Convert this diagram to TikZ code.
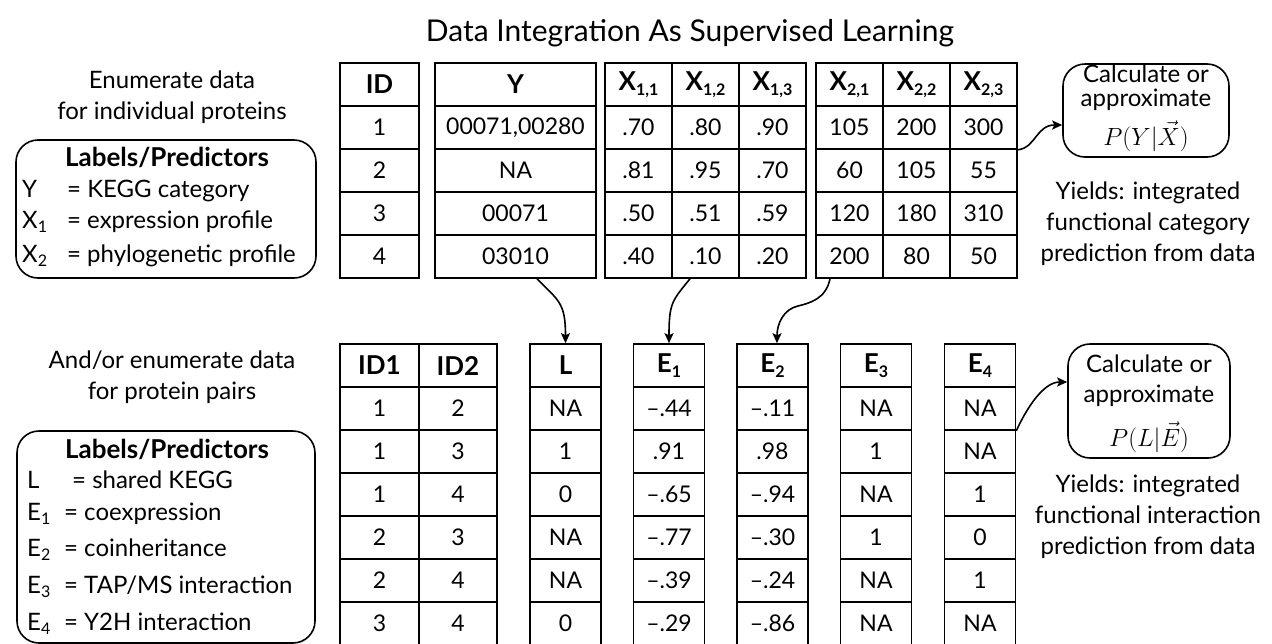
\documentclass[tikz,border=0pt]{standalone}
\usepackage{fontspec}
\setmainfont{Lato}
\usetikzlibrary{arrows.meta,calc}
\newcommand{\sbs}[1]{\raisebox{-0.4ex}{\fontsize{16}{16}\selectfont #1}}
\newcommand{\mkcol}[6]{% name, x, ytop, width, header, entries
  \node[hcell, minimum width=#4] (#1-0) at (#2,#3+21.5) {#5};
  \foreach \v [count=\i] in {#6} \node[cell, minimum width=#4] (#1-\i) at (#2,#3+21.5+43*\i) {\v};
}
\begin{document}
\begin{tikzpicture}[x=1pt,y=-1pt,
  cell/.style={draw, line width=1.6pt, minimum height=43pt, inner sep=0pt, font=\fontsize{23}{25}\selectfont},
  hcell/.style={cell, font=\fontsize{26}{28}\selectfont\bfseries},
  rbox/.style={draw, line width=1.6pt, rounded corners=22pt, inner sep=0pt},
  txt/.style={font=\fontsize{24}{31}\selectfont, align=center, inner sep=0pt},
  ltxt/.style={font=\fontsize{24}{26}\selectfont, anchor=base west, inner sep=0pt},
  lhead/.style={font=\fontsize{26}{28}\selectfont\bfseries, anchor=base, inner sep=0pt},
  mtxt/.style={font=\fontsize{28}{30}\selectfont, inner sep=0pt, anchor=base},
  conn/.style={line width=1.6pt, -{Stealth[length=10pt,width=9pt,inset=2pt]}},
]
\useasboundingbox (0,0) rectangle (1272,643);
\clip (0,0) rectangle (1272,643);

% title
\node[font=\fontsize{30}{32}\selectfont, anchor=base, inner sep=0pt] (title) at (690,41) {Data Integration As Supervised Learning};

% ---------- top section ----------
\node[txt] (enum1) at (172,97) {Enumerate data\\for individual proteins};
\node[rbox, minimum width=300pt, minimum height=138pt] (lb1) at (166,209) {};
\node[lhead] (lb1h) at (167,166) {Labels/Predictors};
\node[ltxt] (lb1a) at (22,197) {\makebox[45pt][l]{Y}= KEGG category};
\node[ltxt] (lb1b) at (22,228) {\makebox[45pt][l]{X\sbs{1}}= expression profile};
\node[ltxt] (lb1c) at (22,262) {\makebox[45pt][l]{X\sbs{2}}= phylogenetic profile};

\mkcol{id}{379.5}{63}{79pt}{ID}{1,2,3,4}
\mkcol{y}{515.5}{63}{161pt}{Y}{{00071,00280},NA,00071,03010}
\mkcol{xa}{638.5}{63}{67pt}{X\sbs{1,1}}{.70,.81,.50,.40}
\mkcol{xb}{705.5}{63}{67pt}{X\sbs{1,2}}{.80,.95,.51,.10}
\mkcol{xc}{772.5}{63}{67pt}{X\sbs{1,3}}{.90,.70,.59,.20}
\mkcol{xd}{849.5}{63}{67pt}{X\sbs{2,1}}{105,60,120,200}
\mkcol{xe}{916.5}{63}{67pt}{X\sbs{2,2}}{200,105,180,80}
\mkcol{xf}{983.5}{63}{67pt}{X\sbs{2,3}}{300,55,310,50}

\node[rbox, minimum width=166pt, minimum height=93pt] (calc1) at (1146,110.5) {};
\node[txt, anchor=base] (calc1a) at (1146,82) {Calculate or};
\node[txt, anchor=base] (calc1b) at (1146,106) {approximate};
\node[mtxt] (calc1c) at (1146,145) {$P(Y|\vec{X})$};
\node[txt] (yield1) at (1148,224) {Yields: integrated\\functional category\\prediction from data};

% ---------- bottom section ----------
\node[txt] (enum2) at (172,377) {And/or enumerate data\\for protein pairs};
\node[rbox, minimum width=298pt, minimum height=212pt] (lb2) at (166,537) {};
\node[lhead] (lb2h) at (167,458) {Labels/Predictors};
\node[ltxt] (lb2a) at (27,488) {\makebox[45pt][l]{L}= shared KEGG};
\node[ltxt] (lb2b) at (27,520) {\makebox[37pt][l]{E\sbs{1}}= coexpression};
\node[ltxt] (lb2c) at (27,556) {\makebox[37pt][l]{E\sbs{2}}= coinheritance};
\node[ltxt] (lb2d) at (27,593) {\makebox[37pt][l]{E\sbs{3}}= TAP/MS interaction};
\node[ltxt] (lb2e) at (27,630) {\makebox[37pt][l]{E\sbs{4}}= Y2H interaction};

\mkcol{ida}{379.5}{344}{79pt}{ID1}{1,1,1,2,2,3}
\mkcol{idb}{458}{344}{78pt}{ID2}{2,3,4,3,4,4}
\mkcol{l}{565.5}{344}{71pt}{L}{NA,1,0,NA,NA,0}
\mkcol{ea}{669}{344}{71pt}{E\sbs{1}}{–.44,.91,–.65,–.77,–.39,–.29}
\mkcol{eb}{772.5}{344}{71pt}{E\sbs{2}}{–.11,.98,–.94,–.30,–.24,–.86}
\mkcol{ec}{876}{344}{71pt}{E\sbs{3}}{NA,1,NA,1,NA,NA}
\mkcol{ed}{980}{344}{71pt}{E\sbs{4}}{NA,NA,1,0,1,NA}

\node[rbox, minimum width=162pt, minimum height=114pt] (calc2) at (1149,401) {};
\node[txt, anchor=base] (calc2a) at (1149,372) {Calculate or};
\node[txt, anchor=base] (calc2b) at (1149,402) {approximate};
\node[mtxt] (calc2c) at (1149,446) {$P(L|\vec{E})$};
\node[txt] (yield2) at (1148,517) {Yields: integrated\\functional interaction\\prediction from data};

% ---------- connectors ----------
\draw[conn] ($(y-4.south)+(21.5,0)$) .. controls +(22,22) and +(0,-40) .. (l-0.north);
\draw[conn] ($(xb-4.south)+(-15.5,0)$) .. controls +(-18,22) and +(0,-40) .. (ea-0.north);
\coordinate (m3) at (798,306);
\draw[conn] ($(xd-4.south)+(-19.5,0)$) .. controls +(-4,20) and +(12,-3) .. (m3)
  .. controls +(-14,3) and +(0,-20) .. ($(eb-0.north)+(4.5,0)$);
\draw[conn] (xf-1.south east) .. controls +(18,-2) and +(-26,0) .. ($(calc1.west)+(0,14.5)$);
\draw[conn] (ed-1.south east) .. controls +(10,-22) and +(-24,0) .. ($(calc2.west)+(0,-19)$);
\end{tikzpicture}
\end{document}
